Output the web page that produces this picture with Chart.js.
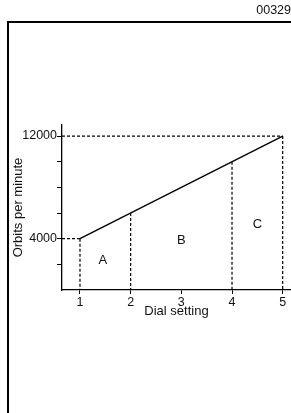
<!DOCTYPE html>
<html>
<head>
<meta charset="utf-8">
<script src="https://cdn.jsdelivr.net/npm/chart.js@4/dist/chart.umd.min.js"></script>
<style>
html, body { margin: 0; padding: 0; background: #fff; }
#wrap { width: 291px; height: 413px; }
</style>
</head>
<body>
<div id="wrap"><canvas id="myChart" width="291" height="413"></canvas></div>
<script>
// data
const dialSetting = [1, 5];
const orbitsPerMin = [4000, 12000];
const guideDial = [1, 2, 4, 5];
const guideOrbits = [4000, 6000, 10000, 12000];
const levelGuides = [4000, 12000];
const xTicks = [1, 2, 3, 4, 5];
const yTicks = [2000, 4000, 6000, 8000, 10000, 12000];
const yTickLabels = [4000, 12000];
const regionNames = ['A', 'B', 'C'];
const regionDial = [1.45, 3, 4.5];
const regionOrbits = [2300, 3900, 5150];

const xMin = 0.645, xMax = 5.164;
const fontFam = "'Liberation Sans', Arial, Helvetica, sans-serif";
const ink = '#111';

// dashed guide segments
const guides = [];
levelGuides.forEach(v => {
    let i = guideOrbits.indexOf(v);
    guides.push([{x: xMin, y: v}, {x: guideDial[i], y: v}]);
});
guideDial.forEach((d, i) => {
    guides.push([{x: d, y: guideOrbits[i]}, {x: d, y: 0}]);
});

const datasets = guides.map(g => ({
    data: g,
    showLine: true,
    borderColor: '#000',
    borderWidth: 1.2,
    borderDash: [3, 2],
    pointRadius: 0
}));
datasets.push({
    data: dialSetting.map((d, i) => ({x: d, y: orbitsPerMin[i]})),
    showLine: true,
    borderColor: '#000',
    borderWidth: 1.4,
    pointRadius: 0
});

// frame + region letters
const extras = {
    id: 'extras',
    beforeDraw(chart) {
        const ctx = chart.ctx;
        ctx.save();
        ctx.fillStyle = '#fff';
        ctx.fillRect(0, 0, chart.width, chart.height);
        ctx.strokeStyle = '#000';
        ctx.lineWidth = 2;
        ctx.beginPath();
        ctx.moveTo(8, chart.height);
        ctx.lineTo(8, 22);
        ctx.lineTo(chart.width, 22);
        ctx.stroke();
        ctx.restore();
    },
    afterDatasetsDraw(chart) {
        const ctx = chart.ctx, xs = chart.scales.x, ys = chart.scales.y;
        ctx.save();
        ctx.fillStyle = ink;
        ctx.font = '13px ' + fontFam;
        ctx.textAlign = 'center';
        ctx.textBaseline = 'middle';
        regionNames.forEach((n, i) => {
            ctx.fillText(n, xs.getPixelForValue(regionDial[i]), ys.getPixelForValue(regionOrbits[i]));
        });
        ctx.restore();
    }
};

const config = {
    type: 'scatter',
    data: { datasets },
    options: {
        responsive: false,
        devicePixelRatio: 1,
        animation: false,
        layout: { padding: 0 },
        plugins: {
            legend: { display: false },
            tooltip: { enabled: false },
            title: {
                display: true,
                text: '00329',
                align: 'end',
                color: ink,
                font: { family: fontFam, size: 12.5, weight: 'normal' },
                padding: { top: 3, bottom: 107 }
            }
        },
        scales: {
            x: {
                type: 'linear',
                position: 'bottom',
                min: xMin,
                max: xMax,
                border: { display: true, color: '#000', width: 1.3 },
                grid: { drawOnChartArea: false, drawTicks: true, tickLength: 4, tickColor: '#000', tickWidth: 1 },
                afterBuildTicks: s => { s.ticks = xTicks.map(v => ({value: v})); },
                afterFit: s => { s.height = 123; },
                ticks: {
                    autoSkip: false, maxRotation: 0, padding: 1, color: ink,
                    font: { family: fontFam, size: 12.5 },
                    callback: v => v
                },
                title: {
                    display: true, text: 'Dial setting', color: ink,
                    font: { family: fontFam, size: 13 },
                    padding: { top: 0, bottom: 94 }
                }
            },
            y: {
                type: 'linear',
                min: 0,
                max: 12860,
                border: { display: true, color: '#000', width: 1.3 },
                grid: { drawOnChartArea: false, drawTicks: true, tickLength: 5, tickColor: '#000', tickWidth: 1 },
                afterBuildTicks: s => { s.ticks = yTicks.map(v => ({value: v})); },
                afterFit: s => { s.width = 62; },
                ticks: {
                    autoSkip: false, padding: 0, color: ink,
                    font: { family: fontFam, size: 12.5 },
                    callback: v => yTickLabels.includes(v) ? String(v) : ''
                },
                title: {
                    display: true, text: 'Orbits per minute', color: ink,
                    font: { family: fontFam, size: 13 },
                    padding: { top: 10.5, bottom: 0 }
                }
            }
        }
    },
    plugins: [extras]
};

let myChart = new Chart(document.getElementById('myChart'), config);
</script>
</body>
</html>
